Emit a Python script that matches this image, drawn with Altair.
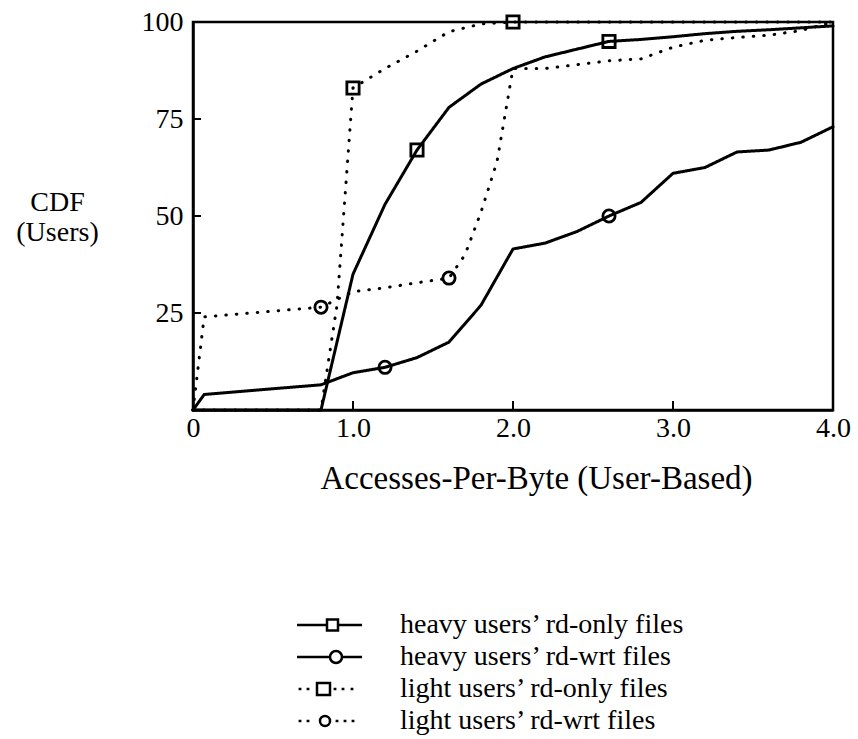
import altair as alt
import pandas as pd

FONT = "Liberation Serif"

series_names = [
    "heavy users\u2019 rd-only files",
    "heavy users\u2019 rd-wrt files",
    "light users\u2019 rd-only files",
    "light users\u2019 rd-wrt files",
]

# CDF curves (x = accesses per byte, y = percent of users)
heavy_ro_x = [0, 0.8, 1.0, 1.2, 1.4, 1.6, 1.8, 2.0, 2.2, 2.4, 2.6, 2.8, 3.0, 3.2, 3.4, 3.6, 3.8, 4.0]
heavy_ro_y = [0, 0, 35, 53, 67, 78, 84, 88, 91, 93, 95, 95.5, 96.2, 97, 97.6, 98, 98.5, 99]

heavy_rw_x = [0, 0.07, 0.8, 1.0, 1.2, 1.4, 1.6, 1.8, 2.0, 2.2, 2.4, 2.6, 2.8, 3.0, 3.2, 3.4, 3.6, 3.8, 4.0]
heavy_rw_y = [0, 4, 6.5, 9.6, 11, 13.5, 17.5, 27, 41.5, 43, 46, 50, 53.5, 61, 62.5, 66.5, 67, 69, 73]

light_ro_x = [0, 0.8, 0.9, 1.0, 1.2, 1.4, 1.6, 1.8, 2.0, 3.0, 4.0]
light_ro_y = [0, 0, 27, 83, 88, 92.5, 97.5, 99.5, 100, 100, 100]

light_rw_x = [0, 0.07, 0.8, 1.0, 1.2, 1.4, 1.6, 1.7, 1.8, 1.9, 2.0, 2.2, 2.4, 2.6, 2.8, 3.0, 3.2, 3.4, 3.6, 3.8, 4.0]
light_rw_y = [0, 24, 26.5, 30.5, 31.5, 32.8, 34, 40, 51, 64, 88, 88, 89, 90, 90.5, 93.5, 95.3, 96, 96.6, 97.8, 100]

# x positions that carry a marker on each curve
heavy_ro_marks = [1.4, 2.6]
heavy_rw_marks = [1.2, 2.6]
light_ro_marks = [1.0, 2.0]
light_rw_marks = [0.8, 1.6]

x_ticks = [0, 1, 2, 3, 4]
y_ticks = [25, 50, 75, 100]
inner_x_ticks = [1, 2, 3]
inner_y_ticks = [25, 50, 75]

curves = [
    (series_names[0], heavy_ro_x, heavy_ro_y, heavy_ro_marks, "square"),
    (series_names[1], heavy_rw_x, heavy_rw_y, heavy_rw_marks, "circle"),
    (series_names[2], light_ro_x, light_ro_y, light_ro_marks, "square"),
    (series_names[3], light_rw_x, light_rw_y, light_rw_marks, "circle"),
]

line_rows, mark_rows = [], []
for name, xs, ys, marks, shape in curves:
    for i, (x, y) in enumerate(zip(xs, ys)):
        line_rows.append({"series": name, "x": x, "y": y, "order": i})
    for mx in marks:
        mark_rows.append({"series": name, "x": mx, "y": ys[xs.index(mx)], "shape": shape})

lines_df = pd.DataFrame(line_rows)
marks_df = pd.DataFrame(mark_rows)
legend_df = pd.DataFrame({"series": series_names})

W, H = 640, 388

x_scale = alt.Scale(domain=[0, 4], nice=False, zero=False)
y_scale = alt.Scale(domain=[0, 100], nice=False)

x_axis = alt.Axis(
    values=x_ticks, ticks=False, tickSize=0, grid=False, labelPadding=4,
    labelExpr="datum.value == 0 ? '0' : format(datum.value, '.1f')",
    labelFlush=False, labelFont=FONT, labelFontSize=28, labelColor="black",
    title="Accesses-Per-Byte (User-Based)", titleFont=FONT, titleFontSize=33,
    titleFontWeight="normal", titleColor="black", titleX=343, titleY=78,
    titleAlign="center", titleBaseline="alphabetic",
    domainColor="black", domainWidth=2.5,
)
y_axis = alt.Axis(
    values=y_ticks, ticks=False, tickSize=0, grid=False, labelPadding=10,
    labelFont=FONT, labelFontSize=28, labelColor="black", labelFlush=False,
    title=["CDF", "(Users)"], titleFont=FONT, titleFontSize=28,
    titleFontWeight="normal", titleColor="black", titleAngle=0,
    titleAlign="center", titleBaseline="alphabetic", titleX=-136, titleY=188,
    titleLineHeight=30, domainColor="black", domainWidth=2.5,
)

lines = alt.Chart(lines_df).mark_line(strokeCap="round", color="black").encode(
    x=alt.X("x:Q", scale=x_scale, axis=x_axis),
    y=alt.Y("y:Q", scale=y_scale, axis=y_axis),
    detail="series:N",
    order="order:Q",
    strokeDash=alt.StrokeDash(
        "series:N", legend=None,
        scale=alt.Scale(domain=series_names,
                        range=[[1, 0], [1, 0], [0.5, 10], [0.5, 10]]),
    ),
    strokeWidth=alt.StrokeWidth(
        "series:N", legend=None,
        scale=alt.Scale(domain=series_names, range=[3, 3, 4, 4]),
    ),
)


def marker_layer(shape):
    return alt.Chart(marks_df).transform_filter(
        f"datum.shape == '{shape}'"
    ).mark_point(
        shape=shape, filled=False, color="black", size=150, strokeWidth=2.8, opacity=1
    ).encode(
        x=alt.X("x:Q", scale=x_scale),
        y=alt.Y("y:Q", scale=y_scale, axis=None),
    )


squares = marker_layer("square")
circles = marker_layer("circle")

# inward axis ticks
y_tick_marks = alt.Chart(pd.DataFrame({"v": inner_y_ticks})).mark_rule(
    color="black", strokeWidth=2
).encode(y=alt.Y("v:Q", scale=y_scale, axis=None), x=alt.value(0), x2=alt.value(8))
x_tick_marks = alt.Chart(pd.DataFrame({"v": inner_x_ticks})).mark_rule(
    color="black", strokeWidth=2
).encode(x=alt.X("v:Q", scale=x_scale), y=alt.value(H), y2=alt.value(H - 9))

# legend below the plot: keys are line segment + marker as custom symbol paths
legend_paths = [
    "M-8.25,0H-0.75M-0.75,-1.375H2V1.375H-0.75ZM2,0H8",
    "M-8.25,0H0A1.5,1.5 0 1,1 3,0A1.5,1.5 0 1,1 0,0M3,0H8",
    "M-7.85,0h0.7M-5.85,0h0.7M-3.25,-1.5H0V1.5H-3.25ZM0.9,0h0.7M2.9,0h0.7M5.15,0h0.7",
    "M-7.85,0h0.7M-5.85,0h0.7M-2.5,0A1.25,1.25 0 1,1 0,0A1.25,1.25 0 1,1 -2.5,0M1.4,0h0.7M3.4,0h0.7M5.4,0h0.7",
]
row_scale = alt.Scale(type="point", domain=series_names, range=[603, 699], padding=0)

legend_keys = alt.Chart(legend_df).mark_point(
    filled=False, color="black", size=64, strokeWidth=2.5, opacity=1
).encode(
    x=alt.value(137),
    y=alt.Y("series:N", scale=row_scale, axis=None),
    shape=alt.Shape("series:N", scale=alt.Scale(domain=series_names, range=legend_paths), legend=None),
)
legend_labels = alt.Chart(legend_df).mark_text(
    align="left", baseline="middle", font=FONT, fontSize=28, color="black"
).encode(
    x=alt.value(207),
    y=alt.Y("series:N", scale=row_scale, axis=None),
    text="series:N",
)

chart = alt.layer(
    lines, squares, circles, y_tick_marks, x_tick_marks, legend_keys, legend_labels
).resolve_scale(
    y="independent"
).properties(
    width=W, height=H,
    autosize=alt.AutoSizeParams(type="none"),
    padding={"left": 193, "top": 22, "right": 25, "bottom": 329},
    background="white",
).configure_view(
    stroke="black", strokeWidth=2.5
)

chart.save("out.html", embed_options={"renderer": "svg", "actions": False})
